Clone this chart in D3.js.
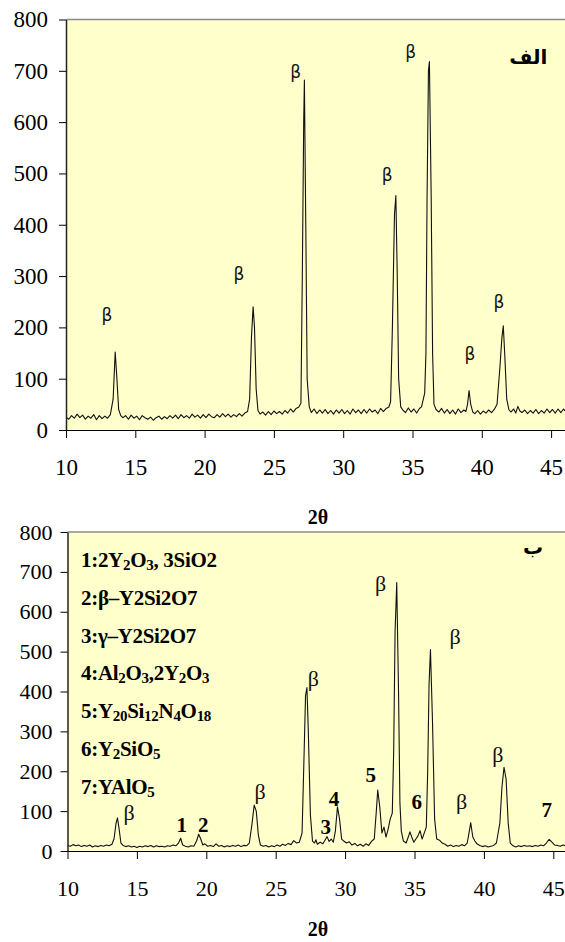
<!DOCTYPE html>
<html><head><meta charset="utf-8">
<script src="https://cdn.jsdelivr.net/npm/d3@7"></script>
<style>body{margin:0;background:#fff}svg{display:block}</style>
</head><body>
<script>
// ---------- DATA ----------
const xTicks = [10, 15, 20, 25, 30, 35, 40, 45];
const yTicks = [0, 100, 200, 300, 400, 500, 600, 700, 800];
const xTitle = "2θ";

// Panel الف : [2θ, intensity]
const scanA = [
[10.0,25],[10.2,21],[10.4,28],[10.6,23],[10.8,31],[11.0,24],[11.2,29],[11.4,21],[11.6,27],[11.8,23],
[12.0,30],[12.2,20],[12.4,28],[12.6,22],[12.8,27],[13.0,23],[13.2,30],[13.4,60],[13.55,152],[13.65,110],
[13.8,40],[13.95,28],[14.1,24],[14.3,28],[14.5,21],[14.7,29],[14.9,23],[15.1,27],[15.3,20],[15.5,28],
[15.7,24],[15.9,21],[16.1,25],[16.3,19],[16.5,24],[16.7,27],[16.9,21],[17.1,26],[17.3,22],[17.5,28],
[17.7,23],[17.9,29],[18.1,22],[18.3,30],[18.5,24],[18.7,28],[18.9,23],[19.1,31],[19.3,25],[19.5,29],
[19.7,23],[19.9,30],[20.1,24],[20.3,31],[20.5,26],[20.7,24],[20.9,30],[21.1,25],[21.3,32],[21.5,26],
[21.7,31],[21.9,25],[22.1,30],[22.3,26],[22.5,32],[22.7,27],[22.9,33],[23.1,36],[23.25,60],[23.38,180],
[23.5,240],[23.6,200],[23.72,80],[23.85,38],[24.0,31],[24.2,35],[24.4,29],[24.6,36],[24.8,30],[25.0,37],
[25.2,32],[25.4,36],[25.6,31],[25.8,38],[26.0,33],[26.2,41],[26.4,35],[26.6,42],[26.8,45],[26.95,52],
[27.05,300],[27.15,600],[27.2,682],[27.3,400],[27.4,100],[27.55,45],[27.7,34],[27.9,41],[28.1,32],[28.3,39],
[28.5,33],[28.7,40],[28.9,32],[29.1,38],[29.3,31],[29.5,39],[29.7,33],[29.9,40],[30.1,32],[30.3,38],
[30.5,31],[30.7,41],[30.9,34],[31.1,39],[31.3,32],[31.5,40],[31.7,33],[31.9,41],[32.1,35],[32.3,39],
[32.5,32],[32.7,42],[32.9,36],[33.1,42],[33.3,45],[33.42,55],[33.55,200],[33.7,420],[33.8,457],[33.9,300],
[34.0,100],[34.15,45],[34.3,39],[34.5,34],[34.7,43],[34.9,35],[35.1,41],[35.3,33],[35.5,42],[35.65,45],
[35.78,60],[35.88,72],[35.97,150],[36.05,450],[36.15,700],[36.22,718],[36.35,450],[36.45,150],[36.55,50],[36.7,40],
[36.9,35],[37.1,42],[37.3,33],[37.5,40],[37.7,32],[37.9,39],[38.1,31],[38.3,41],[38.5,34],[38.7,39],
[38.85,36],[38.97,50],[39.08,77],[39.2,50],[39.35,35],[39.5,32],[39.7,38],[39.9,31],[40.1,37],[40.3,33],
[40.5,39],[40.7,34],[40.9,40],[41.1,50],[41.3,120],[41.45,180],[41.55,203],[41.65,150],[41.8,60],[41.95,40],
[42.1,35],[42.3,41],[42.45,33],[42.6,46],[42.75,37],[42.9,34],[43.1,39],[43.3,32],[43.5,38],[43.7,33],
[43.9,40],[44.1,32],[44.3,38],[44.5,33],[44.7,41],[44.9,34],[45.1,40],[45.3,33],[45.5,41],[45.7,34],
[45.9,41],[46.0,37]
];
// Panel ب
const scanB = [
[10.0,14],[10.2,12],[10.4,16],[10.6,13],[10.8,15],[11.0,11],[11.2,14],[11.4,12],[11.6,15],[11.8,10],
[12.0,13],[12.2,11],[12.4,14],[12.6,12],[12.8,15],[13.0,13],[13.2,17],[13.35,30],[13.5,70],[13.6,83],
[13.7,60],[13.85,20],[14.0,14],[14.2,11],[14.4,13],[14.6,10],[14.8,12],[15.0,9],[15.2,12],[15.4,10],
[15.6,13],[15.8,11],[16.0,14],[16.2,10],[16.4,13],[16.6,11],[16.8,12],[17.0,10],[17.2,13],[17.4,12],
[17.6,15],[17.8,13],[18.0,20],[18.15,32],[18.3,15],[18.5,12],[18.7,10],[18.9,13],[19.1,12],[19.3,25],
[19.45,42],[19.6,30],[19.75,15],[19.9,18],[20.1,12],[20.3,14],[20.5,11],[20.7,18],[20.9,12],[21.1,14],
[21.3,10],[21.5,13],[21.7,11],[21.9,14],[22.1,12],[22.3,15],[22.5,11],[22.7,14],[22.9,13],[23.1,20],
[23.3,70],[23.45,115],[23.6,100],[23.75,40],[23.9,15],[24.1,12],[24.3,14],[24.5,10],[24.7,13],[24.9,11],
[25.1,15],[25.3,12],[25.5,17],[25.7,14],[25.9,19],[26.1,16],[26.3,26],[26.5,20],[26.7,22],[26.9,45],
[27.05,250],[27.15,390],[27.25,410],[27.35,300],[27.5,90],[27.65,25],[27.8,20],[27.9,28],[28.0,17],[28.2,22],
[28.4,18],[28.6,30],[28.7,36],[28.85,24],[29.0,30],[29.15,22],[29.3,50],[29.45,111],[29.6,80],[29.75,30],
[29.9,25],[30.1,20],[30.3,23],[30.5,15],[30.7,19],[30.9,13],[31.1,17],[31.3,12],[31.5,18],[31.7,14],
[31.9,24],[32.1,30],[32.25,100],[32.35,153],[32.5,110],[32.65,45],[32.8,60],[32.95,35],[33.1,55],[33.25,80],
[33.4,95],[33.5,250],[33.6,550],[33.72,673],[33.85,400],[33.95,120],[34.05,50],[34.2,25],[34.4,20],[34.55,35],
[34.67,48],[34.8,35],[34.95,22],[35.1,30],[35.25,38],[35.4,51],[35.55,30],[35.7,45],[35.85,60],[35.95,200],
[36.05,420],[36.15,505],[36.3,320],[36.45,80],[36.6,30],[36.8,27],[37.0,20],[37.2,17],[37.4,12],[37.6,15],
[37.8,11],[38.0,14],[38.2,12],[38.4,16],[38.6,13],[38.8,20],[38.95,50],[39.05,71],[39.2,35],[39.35,25],
[39.5,18],[39.7,14],[39.9,11],[40.1,13],[40.3,10],[40.5,12],[40.7,14],[40.9,20],[41.15,70],[41.3,160],
[41.45,210],[41.6,180],[41.75,70],[41.9,20],[42.1,13],[42.3,10],[42.5,13],[42.7,11],[42.9,14],[43.1,12],
[43.3,13],[43.5,11],[43.7,14],[43.9,12],[44.1,15],[44.3,13],[44.5,20],[44.7,29],[44.9,22],[45.1,15],
[45.3,14],[45.5,12],[45.7,15],[45.9,13]
];

// annotations: [2θ, intensity, text]
const labelsA = [[12.96,224,"β"],[22.48,304,"β"],[26.57,698,"β"],[33.18,496,"β"],[34.87,737,"β"],[39.15,148,"β"],[41.24,250,"β"]];
const titleA = [43.35,727,"الف"];
const labelsB = [[14.43,96,"β"],[23.87,149,"β"],[27.71,433,"β"],[32.56,671,"β"],[37.92,537,"β"],[38.4,124,"β"],[41.0,241,"β"]];
const numbersB = [[18.23,65,"1"],[19.78,65,"2"],[28.6,61,"3"],[29.2,130,"4"],[31.84,190,"5"],[35.16,124,"6"],[44.52,103,"7"]];
const titleB = [43.54,762,"ب"];
const legendB = ["1:2Y_2O_3, 3SiO2","2:β\u2013Y2Si2O7","3:γ\u2013Y2Si2O7","4:Al_2O_3,2Y_2O_3","5:Y_20Si_12N_4O_18","6:Y_2SiO_5","7:YAlO_5"];

// ---------- DRAW ----------
const W = 565, H = 942;
const svg = d3.select("body").append("svg").attr("width", W).attr("height", H);
const serif = "'Liberation Serif','Times New Roman',serif";

function panel(o) {
  const x = d3.scaleLinear().domain([10, 46]).range([o.left, o.left + 36 * o.unit]);
  const y = d3.scaleLinear().domain([0, 800]).range([o.bottom, o.top]);
  const g = svg.append("g");
  const cid = "clip" + o.id;
  svg.append("clipPath").attr("id", cid).append("rect")
    .attr("x", o.left).attr("y", o.top).attr("width", W - o.left).attr("height", o.bottom - o.top);
  g.append("rect").attr("x", o.left).attr("y", o.top).attr("width", W - o.left).attr("height", o.bottom - o.top)
    .attr("fill", "#ffffcc");
  g.append("line").attr("x1", o.left).attr("x2", W).attr("y1", o.top).attr("y2", o.top)
    .attr("stroke", "#8c8c8c").attr("stroke-width", 1.5);
  g.append("path").datum(o.data).attr("clip-path", `url(#${cid})`)
    .attr("fill", "none").attr("stroke", "#111").attr("stroke-width", 1.1).attr("stroke-linejoin", "round")
    .attr("d", d3.line().x(d => x(d[0])).y(d => y(d[1])));

  const xa = g.append("g").attr("transform", `translate(0,${o.bottom})`)
    .call(d3.axisBottom(x).tickValues(xTicks).tickSize(8).tickSizeOuter(0).tickPadding(21));
  xa.attr("font-family", null).attr("font-size", null);
  xa.select(".domain").attr("d", `M${o.left},0.5H${W}`).attr("stroke", "#000");
  xa.selectAll("text").style("font-family", serif).style("font-size", o.fs + "px").attr("fill", "#000");
  const ya = g.append("g").attr("transform", `translate(${o.left},0)`)
    .call(d3.axisLeft(y).tickValues(yTicks).tickSize(7).tickSizeOuter(0).tickPadding(o.ypad));
  ya.attr("font-family", null).attr("font-size", null);
  ya.select(".domain").attr("stroke", "#222").attr("stroke-width", 1.5);
  ya.selectAll("text").style("font-family", serif).style("font-size", o.fs + "px").attr("fill", "#000");

  svg.append("text").attr("x", o.titleX).attr("y", o.titleY).attr("text-anchor", "middle")
    .attr("dominant-baseline", "central").style("font-family", serif).attr("font-weight", "bold")
    .attr("font-size", 20).text(xTitle);

  g.selectAll(".bl").data(o.betas).join("text")
    .attr("x", d => x(d[0])).attr("y", d => y(d[1])).attr("text-anchor", "middle")
    .attr("dominant-baseline", "central").style("font-family", o.betaFont).attr("font-size", o.betaSize)
    .attr("fill", "#111").text(d => d[2]);
  g.append("text").attr("x", x(o.title[0])).attr("y", y(o.title[1])).attr("text-anchor", "middle")
    .attr("dominant-baseline", "central").style("font-family", "'DejaVu Sans',sans-serif")
    .attr("font-weight", "bold").attr("font-size", 20).attr("direction", "rtl").text(o.title[2]);
  return {g, x, y};
}

const A = panel({id: "A", data: scanA, left: 66, unit: 13.86, top: 19.5, bottom: 430, fs: 23, ypad: 11,
  titleX: 318, titleY: 517, betas: labelsA, title: titleA, betaFont: "'DejaVu Sans',sans-serif", betaSize: 17});
const B = panel({id: "B", data: scanB, left: 67.5, unit: 13.88, top: 532, bottom: 851, fs: 22, ypad: 8,
  titleX: 318, titleY: 929, betas: labelsB, title: titleB, betaFont: serif, betaSize: 22});

B.g.selectAll(".num").data(numbersB).join("text")
  .attr("x", d => B.x(d[0])).attr("y", d => B.y(d[1])).attr("text-anchor", "middle")
  .attr("dominant-baseline", "central").style("font-family", serif).attr("font-weight", "bold")
  .attr("font-size", 21).text(d => d[2]);

const lg = B.g.append("g");
legendB.forEach((s, i) => {
  const t = lg.append("text").attr("x", 81).attr("y", 560 + i * 37.8).attr("dominant-baseline", "central")
    .style("font-family", serif).attr("font-weight", "bold").attr("font-size", 21).attr("letter-spacing", -0.3);
  const parts = s.split(/_(\d+)/);
  parts.forEach((p, k) => {
    if (!p) return;
    if (k % 2 === 1) t.append("tspan").attr("font-size", 15).attr("dy", 5).text(p);
    else {
      const ts = t.append("tspan").text(p);
      if (k > 0) ts.attr("dy", -5);
    }
  });
});
</script>
</body></html>
